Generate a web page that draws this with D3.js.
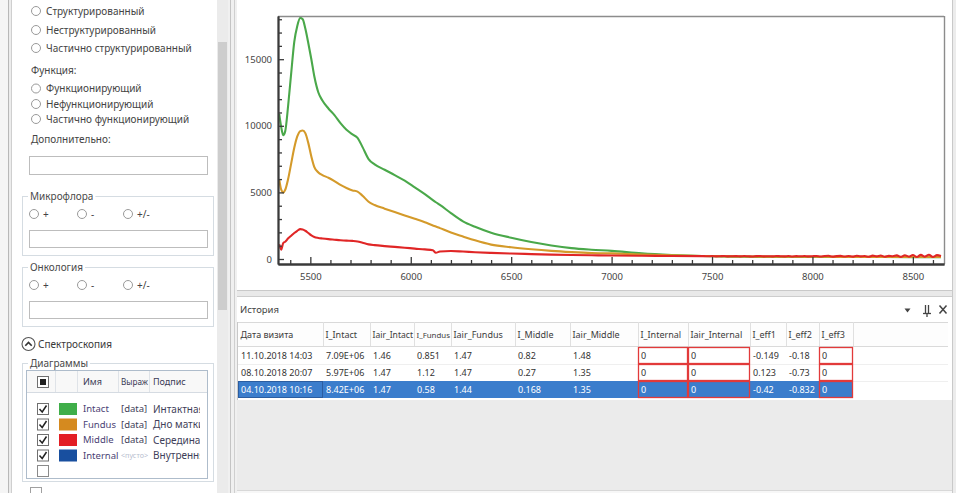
<!DOCTYPE html>
<html lang="ru">
<head>
<meta charset="utf-8">
<title>Спектроскопия</title>
<script src="https://cdn.jsdelivr.net/npm/d3@7/dist/d3.min.js"></script>
<style>
  html, body { margin: 0; padding: 0; background: #ececec; }
  svg { display: block; }
  text { font-family: "Noto Sans", "Open Sans", "DejaVu Sans", sans-serif; fill: #424242; }
</style>
</head>
<body>
<svg id="app" width="956" height="493"></svg>
<script>
// ---------- Spectra: shared wavenumber grid for the measured channels ----------
const wavenumber = [5345, 5355, 5365, 5375, 5390, 5405, 5420, 5435, 5450, 5462,
  5475, 5490, 5505, 5520, 5540, 5560, 5590, 5620, 5650, 5680,
  5710, 5735, 5760, 5790, 5820, 5870, 5920, 5970, 6020, 6070,
  6110, 6125, 6145, 6200, 6260, 6320, 6400, 6500, 6600, 6700,
  6800, 6900, 7000, 7150, 7300, 7450, 7600, 7750, 7900, 8050,
  8200, 8350, 8500, 8640];

const intact = [10900, 9900, 9300, 9600, 11600, 14000, 16300, 17500, 18100, 18000,
  17300, 16200, 15000, 13700, 12500, 11900, 11300, 10800, 10200, 9700,
  9350, 9100, 8400, 7500, 7100, 6700, 6300, 5880, 5380, 4870,
  4420, 4260, 4060, 3450, 2830, 2420, 1980, 1600, 1280, 1020,
  820, 700, 610, 420, 300, 220, 180, 160, 150, 150,
  145, 145, 140, 140];

const fundus = [6000, 5200, 5000, 5200, 6050, 7200, 8350, 9200, 9600, 9650,
  9450, 8700, 7700, 6900, 6500, 6300, 6100, 5850, 5560, 5330,
  5150, 5060, 4750, 4300, 4050, 3780, 3520, 3270, 3020, 2760,
  2520, 2440, 2320, 1990, 1690, 1400, 1080, 880, 730, 610,
  520, 450, 420, 340, 280, 230, 200, 180, 170, 165,
  160, 160, 155, 155];

const middle = [1100, 700, 1200, 1300, 1550, 1750, 1950, 2120, 2240, 2220,
  2120, 1950, 1780, 1650, 1580, 1540, 1490, 1450, 1410, 1380,
  1360, 1320, 1220, 1100, 1040, 970, 910, 850, 780, 720,
  650, 470, 560, 600, 560, 510, 460, 410, 370, 330,
  300, 280, 260, 240, 225, 215];

// Middle channel beyond 7450 is noisier; sampled every 20 units from 7460
const middleTailStart = 7460;
const middleTailStep = 20;
const middleTail = [215, 205, 220, 200, 210, 225, 195, 210, 215, 200,
  220, 205, 190, 215, 225, 200, 210, 195, 220, 210,
  200, 225, 190, 215, 205, 220, 195, 210,
  225, 185, 220, 240, 180, 215, 235, 190, 225, 175,
  245, 200, 220, 170, 250, 195, 260, 165, 235, 205,
  270, 160, 285, 180, 300, 150, 310, 175, 320, 160,
  290, 220];

const xMajorTicks = [5500, 6000, 6500, 7000, 7500, 8000, 8500];
const yMajorTicks = [0, 5000, 10000, 15000];

// ---------- Diagram list ----------
const diagramHeaders = ["Имя", "Выраж", "Подпис"];
const diagramNames = ["Intact", "Fundus", "Middle", "Internal"];
const diagramExpr = ["[data]", "[data]", "[data]", "<пусто>"];
const diagramCaptions = ["Интактная", "Дно матки", "Середина", "Внутренняя"];

// ---------- Visit history ----------
const historyColumns = ["Дата визита", "I_Intact", "Iair_Intact", "I_Fundus", "Iair_Fundus",
  "I_Middle", "Iair_Middle", "I_Internal", "Iair_Internal", "I_eff1", "I_eff2", "I_eff3"];
const visitDates = ["11.10.2018 14:03", "08.10.2018 20:07", "04.10.2018 10:16"];
const iIntact = ["7.09E+06", "5.97E+06", "8.42E+06"];
const iairIntact = ["1.46", "1.47", "1.47"];
const iFundus = ["0.851", "1.12", "0.58"];
const iairFundus = ["1.47", "1.47", "1.44"];
const iMiddle = ["0.82", "0.27", "0.168"];
const iairMiddle = ["1.48", "1.35", "1.35"];
const iInternal = ["0", "0", "0"];
const iairInternal = ["0", "0", "0"];
const iEff1 = ["-0.149", "0.123", "-0.42"];
const iEff2 = ["-0.18", "-0.73", "-0.832"];
const iEff3 = ["0", "0", "0"];

// ---------- styles ----------
const channelColor = { Intact: "#4aa84a", Fundus: "#d49a2a", Middle: "#e02626", Internal: "#1f4f9e" };
const swatchColor = { Intact: "#3fae49", Fundus: "#d58a1f", Middle: "#e31e24", Internal: "#184f9f" };

const svg = d3.select("#app");
const defs = svg.append("defs");

// ---------- helpers ----------
function box(g, x, y, w, h, fill, stroke, sw) {
  return g.append("rect").attr("x", x).attr("y", y).attr("width", w).attr("height", h)
    .attr("fill", fill || "none").attr("stroke", stroke || "none").attr("stroke-width", sw || 1);
}
function line(g, x1, y1, x2, y2, stroke, sw) {
  return g.append("line").attr("x1", x1).attr("y1", y1).attr("x2", x2).attr("y2", y2)
    .attr("stroke", stroke).attr("stroke-width", sw || 1);
}
function label(g, x, y, s, size, color, anchor) {
  return g.append("text").attr("x", x).attr("y", y).attr("dy", "0.35em")
    .attr("font-size", size || 10).style("fill", color || "#444")
    .attr("text-anchor", anchor || "start").text(s);
}
// shrink a text's font when it is wider than its cell
function fit(t, avail) {
  const w = t.node().getComputedTextLength();
  if (w > avail) t.attr("font-size", (+t.attr("font-size") * avail / w).toFixed(2));
  return t;
}
function radio(g, cx, cy) {
  g.append("circle").attr("cx", cx).attr("cy", cy).attr("r", 4.5)
    .attr("fill", "#fff").attr("stroke", "#9a9a9a").attr("stroke-width", 1);
}
function groupBox(g, x, y, w, h, title) {
  box(g, x + 0.5, y + 0.5, w, h, "none", "#d5dce2");
  const t = label(g, x + 8, y, title, 10, "#4a4a4a");
  const bb = t.node().getBBox();
  g.insert("rect", "text:last-of-type").attr("x", bb.x - 2).attr("y", y - 2)
    .attr("width", bb.width + 4).attr("height", 5).attr("fill", "#fff");
  t.raise();
}
function clipRect(id, x, y, w, h) {
  defs.append("clipPath").attr("id", id)
    .append("rect").attr("x", x).attr("y", y).attr("width", w).attr("height", h);
  return `url(#${id})`;
}

// ---------- window frame ----------
const frame = svg.append("g");
box(frame, 0, 0, 956, 493, "#ececec");
box(frame, 0, 0, 8, 493, "#f5f5f5");
line(frame, 8.5, 0, 8.5, 493, "#b8b8b8");
line(frame, 11.5, 0, 11.5, 493, "#cfcfcf");
box(frame, 12, 0, 205, 493, "#ffffff");
// scrollbar
box(frame, 217, 0, 11, 493, "#ebebeb");
box(frame, 218, 42, 9, 268, "#cdcdcd");
// splitter
box(frame, 228, 0, 9, 493, "#f0f0f0");
line(frame, 230.5, 0, 230.5, 493, "#c4c4c4");
line(frame, 234.5, 0, 234.5, 493, "#cfcfcf");
// chart panel
box(frame, 237, 0, 715, 290, "#ffffff");
line(frame, 237, 290.5, 952, 290.5, "#c9c9c9");
line(frame, 952.5, 0, 952.5, 493, "#c9c9c9");
box(frame, 237, 291, 715, 6, "#e9e9e9");
line(frame, 237, 296.5, 952, 296.5, "#cdcdcd");
// history panel
box(frame, 237, 297, 715, 103, "#ffffff");
box(frame, 237, 400, 715, 90, "#ebebeb");
line(frame, 237, 490.5, 952, 490.5, "#d8d8d8");
box(frame, 237, 491, 715, 2, "#f7f7f7");

// ---------- left settings panel ----------
const left = svg.append("g");
const structureOptions = ["Структурированный", "Неструктурированный", "Частично структурированный"];
const structureY = [11, 30, 48];
structureOptions.forEach((s, i) => { radio(left, 36, structureY[i]); label(left, 46, structureY[i], s); });
label(left, 31, 70, "Функция:");
const functionOptions = ["Функционирующий", "Нефункционирующий", "Частично функционирующий"];
const functionY = [88.5, 104, 119];
functionOptions.forEach((s, i) => { radio(left, 36, functionY[i]); label(left, 46, functionY[i], s); });
label(left, 31, 139, "Дополнительно:");
box(left, 29.5, 156.5, 178, 18, "#fff", "#bdbdbd");

function signGroup(top, title) {
  groupBox(left, 22, top, 191, 59, title);
  const ry = top + 18;
  [["+", 34], ["-", 82], ["+/-", 128]].forEach(([s, cx]) => {
    radio(left, cx, ry);
    label(left, cx + 9, ry, s);
  });
  box(left, 29.5, top + 34.5, 178, 17, "#fff", "#bdbdbd");
}
signGroup(196, "Микрофлора");
signGroup(267, "Онкология");

// collapsible section header
left.append("circle").attr("cx", 28.5).attr("cy", 344).attr("r", 6.5)
  .attr("fill", "#fff").attr("stroke", "#555").attr("stroke-width", 1.1);
left.append("path").attr("d", "M25.3,345.8 L28.5,342.4 L31.7,345.8")
  .attr("fill", "none").attr("stroke", "#333").attr("stroke-width", 1.6);
label(left, 38, 344, "Спектроскопия", 10, "#3a3a3a");

groupBox(left, 22, 363, 191, 118, "Диаграммы");

// diagram grid
const grid = left.append("g");
box(grid, 26.5, 370.5, 181, 108, "#fff", "#aebccb");
box(grid, 27, 371, 180, 21, "#f8f8f8");
line(grid, 27, 392.5, 207, 392.5, "#d5dbe2");
[55.5, 77.5, 118.5, 149.5].forEach(cx => line(grid, cx, 371, cx, 392, "#dfe3e8"));
box(grid, 37.5, 376.5, 11, 11, "#fff", "#707070");
box(grid, 40, 379, 6, 6, "#222");

const captionClip = clipRect("gcol1", 150, 370, 50, 110);
label(grid, 83, 382, diagramHeaders[0], 9, "#3a3a55");
fit(label(grid, 121, 382, diagramHeaders[1], 9, "#3a3a55"), 27);
fit(label(grid, 153, 382, diagramHeaders[2], 9, "#3a3a55"), 45);

const rowY = [409, 424.5, 440, 455.5, 471];
diagramNames.forEach((name, i) => {
  const cy = rowY[i];
  box(grid, 37.5, cy - 5.5, 11, 11, "#fff", "#707070");
  grid.append("path").attr("d", `M39.5,${cy} L42.2,${cy + 3} L46.5,${cy - 3.5}`)
    .attr("fill", "none").attr("stroke", "#222").attr("stroke-width", 1.5);
  box(grid, 59, cy - 6, 18, 12, swatchColor[name]);
  label(grid, 83, cy, name, 9.5, "#4a3f74");
  const empty = diagramExpr[i].startsWith("<");
  fit(label(grid, 121, cy, diagramExpr[i], empty ? 8 : 9.5, empty ? "#b9bfd0" : "#3f3f5a"), 27);
  label(grid, 153, cy, diagramCaptions[i], 10, "#3f3f5a").attr("clip-path", captionClip);
});
box(grid, 37.5, rowY[4] - 5.5, 11, 11, "#fff", "#8a8a8a");
box(left, 30.5, 487.5, 11, 8, "#fff", "#a0a0a0");

// ---------- spectrum chart ----------
const plot = { left: 278, right: 944, top: 16, bottom: 264 };
const x = d3.scaleLinear().domain([5339, 8655]).range([plot.left, plot.right]);
const y = d3.scaleLinear().domain([-375, 18243]).range([plot.bottom, plot.top]);

const chart = svg.append("g");
const plotClip = clipRect("plotClip", plot.left, plot.top, plot.right - plot.left, plot.bottom - plot.top);

const lineGen = d3.line().x(d => x(d[0])).y(d => y(d[1])).curve(d3.curveMonotoneX);
const seriesData = [
  { name: "Intact", points: wavenumber.map((w, i) => [w, intact[i]]) },
  { name: "Fundus", points: wavenumber.map((w, i) => [w, fundus[i]]) },
  { name: "Middle", points: wavenumber.slice(0, middle.length).map((w, i) => [w, middle[i]])
      .concat(middleTail.map((v, i) => [middleTailStart + i * middleTailStep, v])) }
];
chart.append("g").attr("clip-path", plotClip)
  .selectAll("path").data(seriesData).join("path")
  .attr("d", d => lineGen(d.points))
  .attr("fill", "none")
  .attr("stroke", d => channelColor[d.name])
  .attr("stroke-width", 2.1)
  .attr("stroke-linejoin", "round");

// frame (top / right)
line(chart, plot.left, plot.top + 0.5, plot.right, plot.top + 0.5, "#8c8c8c", 1.4);
line(chart, plot.right + 0.5, plot.top, plot.right + 0.5, plot.bottom, "#8c8c8c", 1.4);

const xMinor = d3.range(5400, 8601, 100).filter(v => !xMajorTicks.includes(v));
const yMinor = d3.range(1000, 18001, 1000).filter(v => !yMajorTicks.includes(v));

const gxMinor = chart.append("g").attr("transform", `translate(0,${plot.bottom})`)
  .call(d3.axisBottom(x).tickValues(xMinor).tickSizeInner(-4).tickSizeOuter(0).tickFormat(""));
const gx = chart.append("g").attr("transform", `translate(0,${plot.bottom})`)
  .call(d3.axisBottom(x).tickValues(xMajorTicks).tickSizeInner(-7).tickSizeOuter(0)
    .tickPadding(9).tickFormat(d3.format("d")));
const gyMinor = chart.append("g").attr("transform", `translate(${plot.left},0)`)
  .call(d3.axisLeft(y).tickValues(yMinor).tickSizeInner(-4).tickSizeOuter(0).tickFormat(""));
const gy = chart.append("g").attr("transform", `translate(${plot.left},0)`)
  .call(d3.axisLeft(y).tickValues(yMajorTicks).tickSizeInner(-6).tickSizeOuter(0)
    .tickPadding(6).tickFormat(d3.format("d")));

[gxMinor, gx, gyMinor, gy].forEach(g => {
  g.selectAll(".tick line").attr("stroke", "#3a3a3a").attr("stroke-width", 1.3);
  g.select(".domain").attr("stroke", "#3a3a3a").attr("stroke-width", 1.8);
  g.selectAll("text").attr("font-size", 9.5).style("fill", "#444")
    .style("font-family", "\"Noto Sans\", sans-serif");
});

// ---------- visit history table ----------
const hist = svg.append("g");
label(hist, 240, 310, "История", 9.5, "#444");
// title bar buttons
hist.append("path").attr("d", "M904.5,308.5 L910.5,308.5 L907.5,312.5 Z").attr("fill", "#444");
line(hist, 925.5, 305, 925.5, 313, "#444", 1.3);
line(hist, 928.5, 305, 928.5, 313, "#444", 1.3);
line(hist, 923, 313.5, 931, 313.5, "#444", 1.3);
line(hist, 927, 313.5, 927, 317, "#444", 1.3);
hist.append("path").attr("d", "M939.5,305.5 L946.5,313.5 M946.5,305.5 L939.5,313.5")
  .attr("stroke", "#444").attr("stroke-width", 1.5);

const colEdges = [238, 323, 370, 414, 451, 515, 570, 638, 688, 750, 786, 819, 853];
const headerTop = 322, headerBottom = 346, rowH = 17;
const tableRight = 948;
box(hist, 238, headerTop, tableRight - 238, headerBottom - headerTop, "#fdfdfd");
line(hist, 237.5, headerTop, 237.5, 400, "#c8c8c8");
line(hist, 238, headerTop + 0.5, tableRight, headerTop + 0.5, "#d9d9d9");
line(hist, 238, headerBottom + 0.5, tableRight, headerBottom + 0.5, "#dadada");
colEdges.slice(1).forEach(cx => line(hist, cx + 0.5, headerTop, cx + 0.5, headerBottom, "#e0e0e0"));
const colWidth = i => colEdges[i + 1] - colEdges[i];
historyColumns.forEach((c, i) =>
  fit(label(hist, colEdges[i] + 2.5, 335, c, 9, "#3c3c3c"), colWidth(i) - 3.5));

const columns = [visitDates, iIntact, iairIntact, iFundus, iairFundus, iMiddle, iairMiddle,
  iInternal, iairInternal, iEff1, iEff2, iEff3];
const flagged = [7, 8, 11];
const selectedRow = 2;
visitDates.forEach((_, r) => {
  const top = headerBottom + 1 + r * rowH;
  const cy = top + rowH / 2;
  const sel = r === selectedRow;
  if (sel) {
    box(hist, 238, top, colEdges[colEdges.length - 1] - 238, rowH, "#3b7dcc");
    box(hist, 238.5, top + 0.5, colWidth(0) - 1, rowH - 1, "none", "#1d3f75")
      .attr("stroke-dasharray", "1,1");
  } else {
    line(hist, 238, top + rowH + 0.5, tableRight, top + rowH + 0.5, "#efefef");
  }
  columns.forEach((col, c) => {
    if (flagged.includes(c)) {
      box(hist, colEdges[c] + 0.5, top + 0.5, colWidth(c) - 1, rowH - 1,
        "none", "#e23a3a", 1.3);
    }
    fit(label(hist, colEdges[c] + 3, cy, col[r], 9, sel ? "#ffffff" : "#333"), colWidth(c) - 4);
  });
});
</script>
</body>
</html>
